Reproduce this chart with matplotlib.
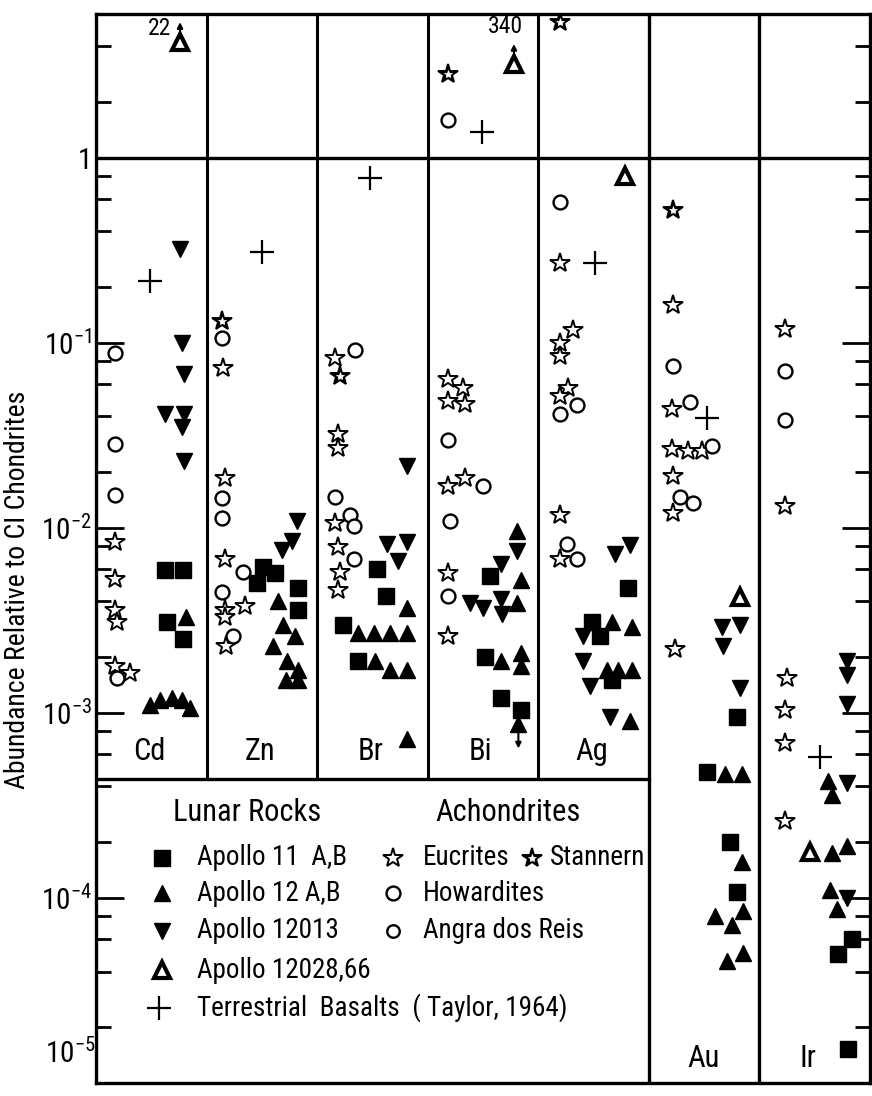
import matplotlib
matplotlib.use('Agg')
import matplotlib.pyplot as plt
from matplotlib import font_manager
from matplotlib.ticker import FixedLocator, NullFormatter

# the original lettering is narrow; use a condensed face when one is installed
FONT, STRETCH, W = 'Liberation Sans', 'normal', 0.84
for f in font_manager.fontManager.ttflist:
    if f.name in ('Liberation Sans Narrow', 'DejaVu Sans Condensed', 'Roboto Condensed'):
        FONT, STRETCH, W = f.name, 'normal', 1.0
        break
    if f.name in ('Noto Sans', 'DejaVu Sans', 'Open Sans', 'Roboto') and \
            f.stretch in ('condensed', 'semi-condensed') and f.style == 'normal':
        FONT, STRETCH, W = f.name, f.stretch, 1.0
plt.rcParams['font.family'] = [FONT, 'DejaVu Sans']
plt.rcParams['font.stretch'] = STRETCH
plt.rcParams['mathtext.default'] = 'regular'

elements = ['Cd', 'Zn', 'Br', 'Bi', 'Ag', 'Au', 'Ir']

# (element, abundance relative to CI) ; *_dx = horizontal jitter inside column
apollo11 = [('Cd', 0.0059), ('Cd', 0.0059), ('Cd', 0.0031), ('Cd', 0.0025),
            ('Zn', 0.0061), ('Zn', 0.0057), ('Zn', 0.005), ('Zn', 0.0047), ('Zn', 0.0036),
            ('Br', 0.006), ('Br', 0.0043), ('Br', 0.003), ('Br', 0.0019),
            ('Bi', 0.0055), ('Bi', 0.002), ('Bi', 0.0012), ('Bi', 0.00104),
            ('Ag', 0.0047), ('Ag', 0.0031), ('Ag', 0.0026), ('Ag', 0.0015),
            ('Au', 0.00095), ('Au', 0.00048), ('Au', 0.0002), ('Au', 0.000108),
            ('Ir', 0.0000597), ('Ir', 0.0000495), ('Ir', 0.0000153)]
apollo11_dx = [0.62, 0.79, 0.64, 0.79,
               0.51, 0.62, 0.46, 0.83, 0.83,
               0.54, 0.62, 0.23, 0.37,
               0.56, 0.52, 0.66, 0.84,
               0.81, 0.49, 0.56, 0.67,
               0.80, 0.53, 0.73, 0.80,
               0.84, 0.71, 0.80]

apollo12 = [('Cd', 0.0033), ('Cd', 0.0011), ('Cd', 0.00117), ('Cd', 0.0012), ('Cd', 0.00117), ('Cd', 0.00106),
            ('Zn', 0.004), ('Zn', 0.003), ('Zn', 0.0026), ('Zn', 0.0023), ('Zn', 0.0019), ('Zn', 0.0017),
            ('Zn', 0.0015), ('Zn', 0.0015),
            ('Br', 0.0037), ('Br', 0.0027), ('Br', 0.0027), ('Br', 0.0027), ('Br', 0.0027),
            ('Br', 0.0019), ('Br', 0.0017), ('Br', 0.0017), ('Br', 0.00072),
            ('Bi', 0.0096), ('Bi', 0.0052), ('Bi', 0.0039), ('Bi', 0.0019), ('Bi', 0.0021), ('Bi', 0.0018),
            ('Bi', 0.00087),
            ('Ag', 0.0031), ('Ag', 0.0029), ('Ag', 0.0017), ('Ag', 0.0017), ('Ag', 0.0017), ('Ag', 0.0009),
            ('Au', 0.00047), ('Au', 0.00047), ('Au', 0.000157), ('Au', 0.0000794), ('Au', 0.000071),
            ('Au', 0.0000845), ('Au', 0.0000454), ('Au', 0.0000507),
            ('Ir', 0.00043), ('Ir', 0.00036), ('Ir', 0.000175), ('Ir', 0.00019), ('Ir', 0.00011), ('Ir', 0.0000867)]
apollo12_dx = [0.81, 0.49, 0.58, 0.69, 0.78, 0.85,
               0.65, 0.69, 0.80, 0.60, 0.73, 0.83, 0.72, 0.83,
               0.81, 0.37, 0.51, 0.66, 0.81, 0.52, 0.66, 0.81, 0.81,
               0.81, 0.84, 0.81, 0.66, 0.84, 0.84, 0.82,
               0.67, 0.85, 0.62, 0.72, 0.85, 0.83,
               0.69, 0.84, 0.84, 0.60, 0.75, 0.85, 0.71, 0.85,
               0.62, 0.66, 0.66, 0.79, 0.64, 0.70]

apollo12013 = [('Cd', 0.32), ('Cd', 0.099), ('Cd', 0.068), ('Cd', 0.041), ('Cd', 0.041), ('Cd', 0.035), ('Cd', 0.023),
               ('Zn', 0.0109), ('Zn', 0.0085), ('Zn', 0.0076),
               ('Br', 0.0215), ('Br', 0.0082), ('Br', 0.0084), ('Br', 0.0066),
               ('Bi', 0.0075), ('Bi', 0.0064), ('Bi', 0.0039), ('Bi', 0.0037), ('Bi', 0.0041), ('Bi', 0.0034),
               ('Ag', 0.0072), ('Ag', 0.0081), ('Ag', 0.0026), ('Ag', 0.0019), ('Ag', 0.0014), ('Ag', 0.00095),
               ('Au', 0.0029), ('Au', 0.003), ('Au', 0.0023), ('Au', 0.00137),
               ('Ir', 0.0019), ('Ir', 0.0016), ('Ir', 0.00112), ('Ir', 0.00042), ('Ir', 0.0001)]
apollo12013_dx = [0.76, 0.78, 0.80, 0.62, 0.80, 0.78, 0.80,
                  0.82, 0.77, 0.68,
                  0.81, 0.63, 0.81, 0.73,
                  0.81, 0.66, 0.38, 0.50, 0.66, 0.67,
                  0.69, 0.83, 0.40, 0.40, 0.47, 0.65,
                  0.66, 0.82, 0.67, 0.82,
                  0.79, 0.79, 0.79, 0.79, 0.79]

apollo12028 = [('Cd', 22), ('Bi', 340), ('Ag', 0.80), ('Au', 0.0042), ('Ir', 0.000176)]
apollo12028_dx = [0.76, 0.78, 0.78, 0.82, 0.46]

basalts = [('Cd', 0.215), ('Zn', 0.31), ('Br', 0.78), ('Bi', 1.37), ('Ag', 0.27), ('Au', 0.039), ('Ir', 0.00058)]
basalts_dx = [0.49, 0.50, 0.48, 0.49, 0.51, 0.53, 0.55]

eucrites = [('Cd', 0.0084), ('Cd', 0.0053), ('Cd', 0.0036), ('Cd', 0.0031), ('Cd', 0.0018), ('Cd', 0.00165),
            ('Zn', 0.073), ('Zn', 0.0185), ('Zn', 0.0068), ('Zn', 0.0038), ('Zn', 0.0036), ('Zn', 0.0033),
            ('Zn', 0.0023),
            ('Br', 0.083), ('Br', 0.032), ('Br', 0.027), ('Br', 0.0106), ('Br', 0.0079), ('Br', 0.0058),
            ('Br', 0.0046),
            ('Bi', 0.0635), ('Bi', 0.0568), ('Bi', 0.0483), ('Bi', 0.0465), ('Bi', 0.0168), ('Bi', 0.0185),
            ('Bi', 0.0057), ('Bi', 0.0026),
            ('Ag', 0.27), ('Ag', 0.117), ('Ag', 0.099), ('Ag', 0.0845), ('Ag', 0.0568), ('Ag', 0.0514),
            ('Ag', 0.0117), ('Ag', 0.0068),
            ('Au', 0.16), ('Au', 0.0437), ('Au', 0.0266), ('Au', 0.0259), ('Au', 0.0259), ('Au', 0.019),
            ('Au', 0.012), ('Au', 0.0022),
            ('Ir', 0.119), ('Ir', 0.0131), ('Ir', 0.00155), ('Ir', 0.00104), ('Ir', 0.00069), ('Ir', 0.00026)]
eucrites_dx = [0.17, 0.17, 0.17, 0.19, 0.17, 0.31,
               0.15, 0.17, 0.17, 0.35, 0.17, 0.17, 0.18,
               0.16, 0.19, 0.19, 0.16, 0.19, 0.21, 0.19,
               0.18, 0.32, 0.18, 0.34, 0.18, 0.34, 0.18, 0.18,
               0.20, 0.31, 0.20, 0.20, 0.27, 0.20, 0.20, 0.20,
               0.22, 0.21, 0.21, 0.35, 0.48, 0.22, 0.22, 0.24,
               0.23, 0.23, 0.25, 0.23, 0.23, 0.23]

stannern = [('Zn', 0.131), ('Br', 0.066), ('Bi', 2.83), ('Ag', 5.4), ('Au', 0.52)]
stannern_dx = [0.14, 0.21, 0.18, 0.20, 0.22]

howardites = [('Cd', 0.088), ('Cd', 0.0283), ('Cd', 0.015), ('Cd', 0.00154),
              ('Zn', 0.106), ('Zn', 0.0145), ('Zn', 0.0113), ('Zn', 0.0058), ('Zn', 0.0045), ('Zn', 0.0026),
              ('Br', 0.091), ('Br', 0.0146), ('Br', 0.0117), ('Br', 0.0102), ('Br', 0.0068),
              ('Bi', 1.59), ('Bi', 0.0297), ('Bi', 0.0168), ('Bi', 0.0109), ('Bi', 0.0043),
              ('Ag', 0.575), ('Ag', 0.041), ('Ag', 0.046), ('Ag', 0.0082), ('Ag', 0.0068),
              ('Au', 0.0746), ('Au', 0.0477), ('Au', 0.0276), ('Au', 0.0146), ('Au', 0.0136),
              ('Ir', 0.07), ('Ir', 0.038)]
howardites_dx = [0.17, 0.17, 0.17, 0.19,
                 0.14, 0.14, 0.14, 0.33, 0.14, 0.24,
                 0.34, 0.16, 0.30, 0.33, 0.33,
                 0.18, 0.18, 0.50, 0.20, 0.18,
                 0.20, 0.20, 0.35, 0.26, 0.35,
                 0.22, 0.37, 0.57, 0.28, 0.40,
                 0.23, 0.23]

y_ticks = [1e-5, 1e-4, 1e-3, 1e-2, 1e-1, 1]
y_ticklabels = ['', '$10^{-4}$', '$10^{-3}$', '$10^{-2}$', '$10^{-1}$', '1']

# layout
TOP = 5.97
LEG_TOP = 4.37e-4
CLIP = {22: 4.2, 340: 3.2}

fig = plt.figure(figsize=(8.72, 10.96), dpi=100)
ax = fig.add_axes([96 / 872, 13 / 1096, 774 / 872, 1069 / 1096])
ax.set_yscale('log')
ax.set_ylim(1e-5, TOP)
ax.set_xlim(0, 7)

for s in ax.spines.values():
    s.set_linewidth(2.4)

ax.axhline(1, color='k', lw=2.4, zorder=1)
for i in range(1, 5):
    ax.plot([i, i], [LEG_TOP, TOP], color='k', lw=2.2, zorder=1)
for i in (5, 6):
    ax.axvline(i, color='k', lw=2.4, zorder=1)
ax.plot([0, 5], [LEG_TOP, LEG_TOP], color='k', lw=2.4, zorder=1)

minor = [m * 10.0 ** k for k in range(-5, 0) for m in (2, 4, 6, 8)] + [2, 4]
ax.yaxis.set_major_locator(FixedLocator(y_ticks))
ax.yaxis.set_minor_locator(FixedLocator(minor))
ax.yaxis.set_minor_formatter(NullFormatter())
ax.set_yticklabels(y_ticklabels, fontsize=21 * W)
ax.set_xticks([])
ax.tick_params(axis='y', which='major', direction='in', left=True, right=True,
               length=20, width=2, pad=3)
ax.tick_params(axis='y', which='minor', direction='in', left=True, right=True,
               length=11, width=2)
# bottom label kept inside the canvas
ax.text(-0.005, 1.75e-5, '$10^{-5}$', fontsize=21 * W, ha='right', va='top')

mk = dict(linestyle='none', color='k', zorder=3)


def xy(points, dx):
    xs = [elements.index(e) + d for (e, _), d in zip(points, dx)]
    ys = [CLIP.get(v, v) for _, v in points]
    return xs, ys


x, y = xy(apollo11, apollo11_dx)
ax.plot(x, y, marker='s', ms=11, mfc='k', mec='k', **mk)
x, y = xy(apollo12, apollo12_dx)
ax.plot(x, y, marker='^', ms=12, mfc='k', mec='k', **mk)
x, y = xy(apollo12013, apollo12013_dx)
ax.plot(x, y, marker='v', ms=12, mfc='k', mec='k', **mk)
x, y = xy(apollo12028, apollo12028_dx)
ax.plot(x, y, marker='^', ms=12, mfc='white', mec='k', mew=3, **mk)
x, y = xy(basalts, basalts_dx)
ax.plot(x, y, marker='+', ms=17, mew=1.6, **mk)
x, y = xy(eucrites, eucrites_dx)
ax.plot(x, y, marker='*', ms=15, mfc='white', mec='k', mew=1.4, **mk)
x, y = xy(stannern, stannern_dx)
ax.plot(x, y, marker='*', ms=15, mfc='k', mec='k', mew=1.4, **mk)
ax.plot(x, y, marker='*', ms=6, mfc='white', mec='white', mew=0.5, linestyle='none', zorder=4)
x, y = xy(howardites, howardites_dx)
ax.plot(x, y, marker='o', ms=10, mfc='white', mec='k', mew=1.7, **mk)

# off-scale values in the top box
for (e, v), d in zip(apollo12028, apollo12028_dx):
    if v in CLIP:
        xi = elements.index(e) + d
        ax.annotate('', xy=(xi, CLIP[v] * 1.33), xytext=(xi, CLIP[v] * 1.06),
                    arrowprops=dict(arrowstyle='-|>', color='k', lw=1.5, mutation_scale=8))
ax.text(elements.index('Cd') + 0.68, 5.0, '22', fontsize=17 * W, ha='right', va='center')
ax.text(elements.index('Bi') + 0.70, 5.1, '340', fontsize=17 * W, ha='center', va='center')
# upper limit arrow for Bi
ax.annotate('', xy=(elements.index('Bi') + 0.82, 0.00062), xytext=(elements.index('Bi') + 0.82, 0.00082),
            arrowprops=dict(arrowstyle='-|>', color='k', lw=1.5, mutation_scale=8))

# element names
for i, e in enumerate(elements[:5]):
    ax.text(i + 0.48, 6.2e-4, e, fontsize=22 * W, ha='center', va='center')
ax.text(5.49, 1.35e-5, 'Au', fontsize=22 * W, ha='center', va='center')
ax.text(6.44, 1.35e-5, 'Ir', fontsize=22 * W, ha='center', va='center')

# legend box
T = ax.transAxes
ax.text(0.0995, 0.2526, 'Lunar Rocks', transform=T, fontsize=22 * W, va='center')
ax.text(0.439, 0.2526, 'Achondrites', transform=T, fontsize=22 * W, va='center')
rows = [0.2105, 0.1777, 0.1422, 0.1057, 0.0702]
lk = dict(transform=T, clip_on=False, linestyle='none', color='k')
ax.plot(0.0853, rows[0], marker='s', ms=11, mfc='k', **lk)
ax.plot(0.0853, rows[1], marker='^', ms=12, mfc='k', **lk)
ax.plot(0.0853, rows[2], marker='v', ms=12, mfc='k', **lk)
ax.plot(0.0853, rows[3], marker='^', ms=12, mfc='white', mec='k', mew=3, **lk)
ax.plot(0.0814, rows[4], marker='+', ms=17, mew=1.6, **lk)
lunar = ['Apollo 11  A,B', 'Apollo 12 A,B', 'Apollo 12013', 'Apollo 12028,66',
         'Terrestrial  Basalts  ( Taylor, 1964)']
for r, t in zip(rows, lunar):
    ax.text(0.1305, r, t, transform=T, fontsize=19.5 * W, va='center')
ax.plot(0.3837, rows[0], marker='*', ms=15, mfc='white', mec='k', mew=1.4, **lk)
ax.plot(0.3837, rows[1], marker='o', ms=10, mfc='white', mec='k', mew=1.7, **lk)
ax.plot(0.3837, rows[2], marker='o', ms=9, mfc='white', mec='k', mew=1.7, **lk)
ax.plot(0.5633, rows[0], marker='*', ms=15, mfc='k', mec='k', mew=1.4, **lk)
ax.plot(0.5633, rows[0], marker='*', ms=6, mfc='white', mec='white', mew=0.5, transform=T,
        clip_on=False, linestyle='none')
for r, t in zip(rows, ['Eucrites', 'Howardites', 'Angra dos Reis']):
    ax.text(0.4225, r, t, transform=T, fontsize=19.5 * W, va='center')
ax.text(0.5866, rows[0], 'Stannern', transform=T, fontsize=19.5 * W, va='center')

fig.text(18 / 872, 1 - 590 / 1096, 'Abundance Relative to CI Chondrites', rotation=90,
         fontsize=20 * W, ha='center', va='center')

fig.savefig('out.png', dpi=100)
